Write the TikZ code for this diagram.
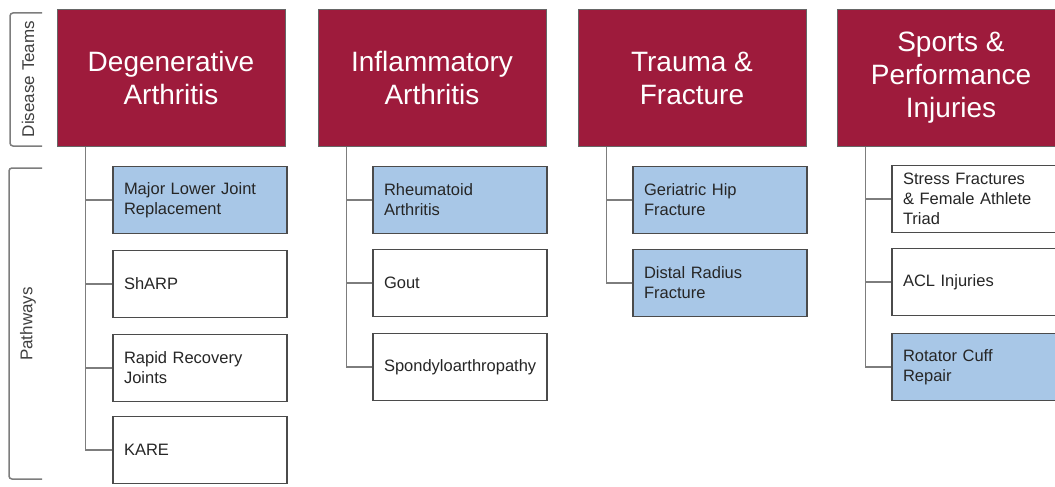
\documentclass[tikz,border=0pt]{standalone}
\usepackage{fontspec}
\setmainfont{Liberation Sans}
\usetikzlibrary{positioning}
\definecolor{teamred}{RGB}{158,27,60}
\definecolor{pathblue}{RGB}{168,199,231}
\definecolor{linegray}{RGB}{125,125,125}
\definecolor{edgegray}{RGB}{75,75,75}
\tikzset{
    team/.style={fill=teamred, draw=black!60, line width=1pt, text=white,
        minimum width=228pt, minimum height=136pt, align=center,
        font=\fontsize{28}{33}\selectfont},
    pathbox/.style={draw=edgegray, line width=1.5pt, fill=white,
        minimum width=174pt, minimum height=67pt, text width=152pt,
        align=left, text=black!85, font=\fontsize{16.5}{20}\selectfont},
    keybox/.style={pathbox, fill=pathblue},
    link/.style={draw=linegray, line width=1.5pt},
    brace/.style={draw=linegray, line width=1.5pt, rounded corners=3pt},
    sidelabel/.style={rotate=90, text=black!75, font=\fontsize{17}{20}\selectfont}
}
\begin{document}
\begin{tikzpicture}[x=1pt, y=-1pt]
                \useasboundingbox [fill=white] (0,0) rectangle (1055,487);
                \clip (0,0) rectangle (1055,487);
                % row labels at the left
                \draw [brace] (42,13) -- (10,13) -- (10,146) -- (42,146);
                \node [sidelabel] (teamlabel) at (28,79) {Disease Teams};
                \draw [brace] (42,168) -- (9,168) -- (9,479) -- (42,479);
                \node [sidelabel] (pathlabel) at (28,324) {Pathways};
                % disease teams
                \node [team] (deg) at (171,78) {Degenerative\\Arthritis};
                \node [team] (infl) at (432,78) {Inflammatory\\Arthritis};
                \node [team] (trau) at (692,78) {Trauma \&\\Fracture};
                \node [team] (sport) at (951,78) {Sports \&\\Performance\\Injuries};
                % pathways
                \node [keybox] (deg1) at (200,200) {Major Lower Joint Replacement};
                \node [pathbox] (deg2) at (200,284) {ShARP};
                \node [pathbox] (deg3) at (200,368) {Rapid Recovery\\Joints};
                \node [pathbox] (deg4) at (200,450) {KARE};
                \node [keybox] (infl1) at (460,200) {Rheumatoid\\Arthritis};
                \node [pathbox] (infl2) at (460,283) {Gout};
                \node [pathbox] (infl3) at (460,367) {Spondyloarthropathy};
                \node [keybox] (trau1) at (720,200) {Geriatric Hip\\Fracture};
                \node [keybox] (trau2) at (720,283) {Distal Radius\\Fracture};
                \node [pathbox] (sport1) at (979,199) {Stress Fractures\\\& Female Athlete\\Triad};
                \node [pathbox] (sport2) at (979,282) {ACL Injuries};
                \node [keybox] (sport3) at (979,367) {Rotator Cuff\\Repair};
                % trunks and branches
                \coordinate (degtop) at ([xshift=29pt]deg.south west);
                \coordinate (infltop) at ([xshift=29pt]infl.south west);
                \coordinate (trautop) at ([xshift=29pt]trau.south west);
                \coordinate (sporttop) at ([xshift=29pt]sport.south west);
                \draw [link] (degtop) |- (deg1.west);
                \draw [link] (degtop) |- (deg2.west);
                \draw [link] (degtop) |- (deg3.west);
                \draw [link] (degtop) |- (deg4.west);
                \draw [link] (infltop) |- (infl1.west);
                \draw [link] (infltop) |- (infl2.west);
                \draw [link] (infltop) |- (infl3.west);
                \draw [link] (trautop) |- (trau1.west);
                \draw [link] (trautop) |- (trau2.west);
                \draw [link] (sporttop) |- (sport1.west);
                \draw [link] (sporttop) |- (sport2.west);
                \draw [link] (sporttop) |- (sport3.west);
            \end{tikzpicture}
\end{document}
